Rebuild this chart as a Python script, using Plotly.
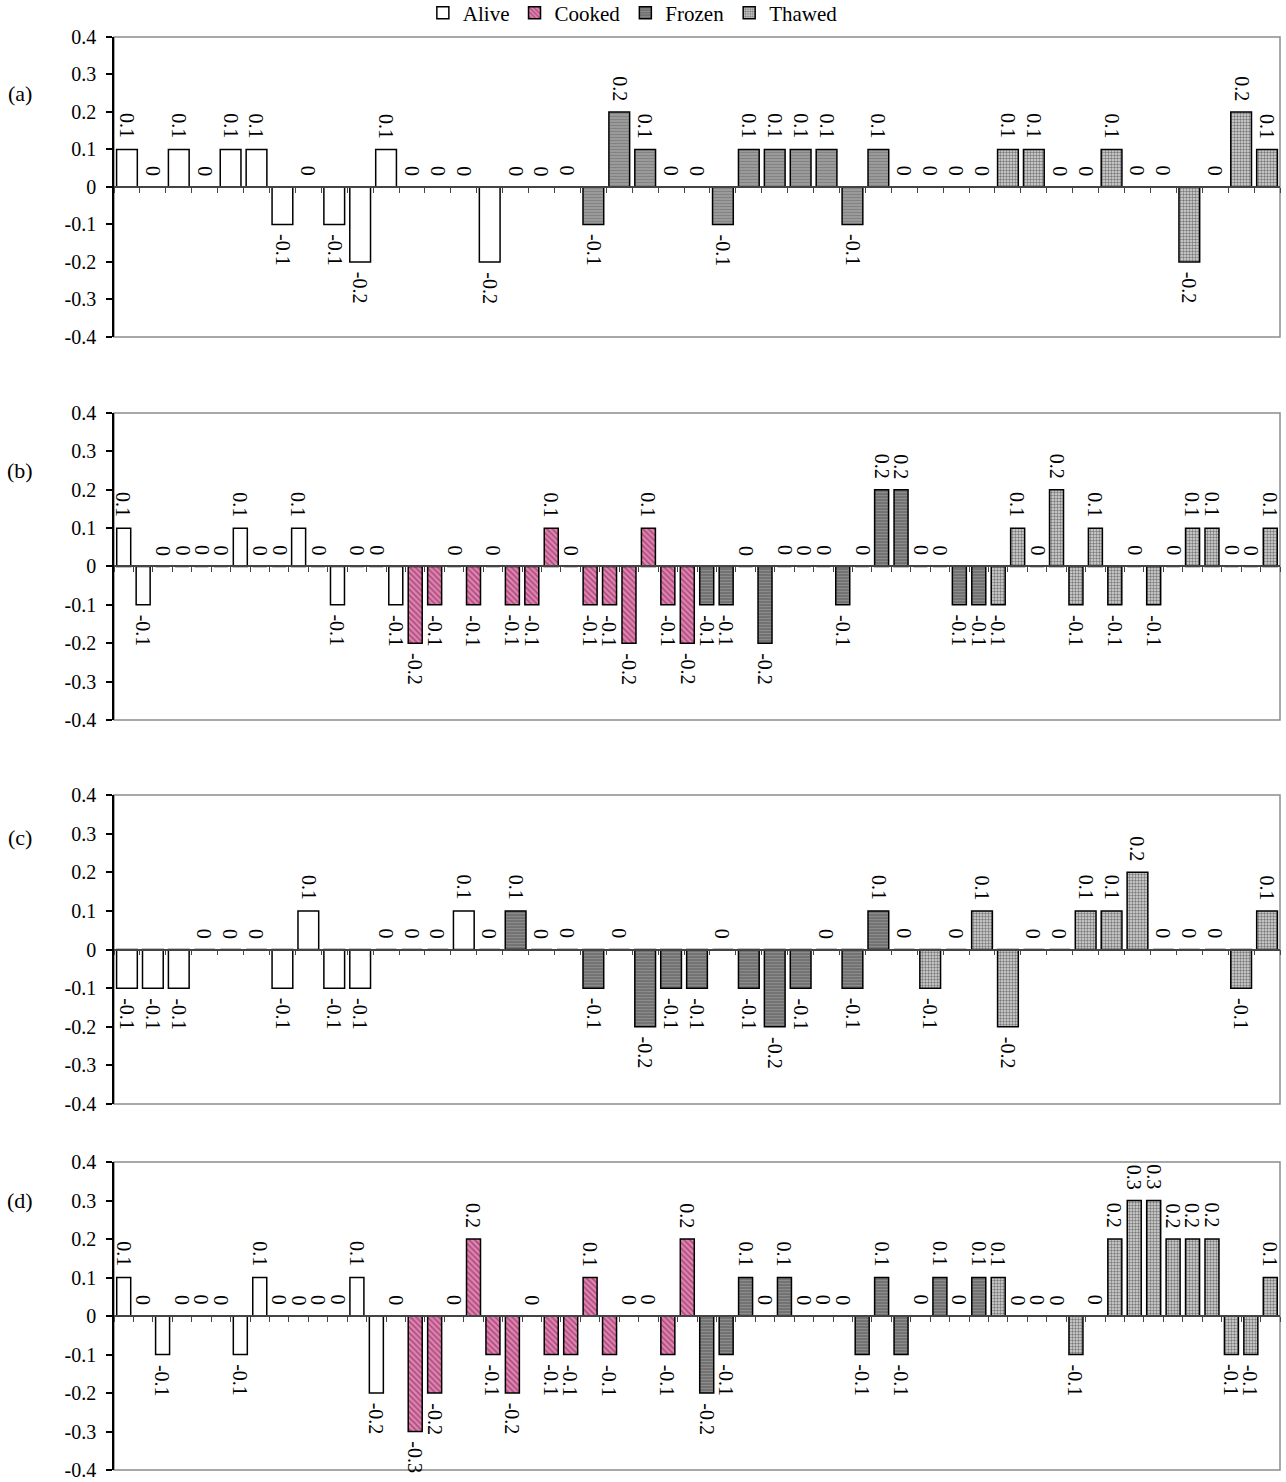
import plotly.graph_objects as go

# ---------------- data ----------------
group_names = ["Alive", "Cooked", "Frozen", "Thawed"]

a_alive = [0.1, 0, 0.1, 0, 0.1, 0.1, -0.1, 0, -0.1, -0.2, 0.1, 0, 0, 0, -0.2]
a_frozen = [0, 0, 0, -0.1, 0.2, 0.1, 0, 0, -0.1, 0.1, 0.1, 0.1, 0.1, -0.1, 0.1]
a_thawed = [0, 0, 0, 0, 0.1, 0.1, 0, 0, 0.1, 0, 0, -0.2, 0, 0.2, 0.1]

b_alive = [0.1, -0.1, 0, 0, 0, 0, 0.1, 0, 0, 0.1, 0, -0.1, 0, 0, -0.1]
b_cooked = [-0.2, -0.1, 0, -0.1, 0, -0.1, -0.1, 0.1, 0, -0.1, -0.1, -0.2, 0.1, -0.1, -0.2]
b_frozen = [-0.1, -0.1, 0, -0.2, 0, 0, 0, -0.1, 0, 0.2, 0.2, 0, 0, -0.1, -0.1]
b_thawed = [-0.1, 0.1, 0, 0.2, -0.1, 0.1, -0.1, 0, -0.1, 0, 0.1, 0.1, 0, 0, 0.1]

c_alive = [-0.1, -0.1, -0.1, 0, 0, 0, -0.1, 0.1, -0.1, -0.1, 0, 0, 0, 0.1, 0]
c_frozen = [0.1, 0, 0, -0.1, 0, -0.2, -0.1, -0.1, 0, -0.1, -0.2, -0.1, 0, -0.1, 0.1]
c_thawed = [0, -0.1, 0, 0.1, -0.2, 0, 0, 0.1, 0.1, 0.2, 0, 0, 0, -0.1, 0.1]

d_alive = [0.1, 0, -0.1, 0, 0, 0, -0.1, 0.1, 0, 0, 0, 0, 0.1, -0.2, 0]
d_cooked = [-0.3, -0.2, 0, 0.2, -0.1, -0.2, 0, -0.1, -0.1, 0.1, -0.1, 0, 0, -0.1, 0.2]
d_frozen = [-0.2, -0.1, 0.1, 0, 0.1, 0, 0, 0, -0.1, 0.1, -0.1, 0, 0.1, 0, 0.1]
d_thawed = [0.1, 0, 0, 0, -0.1, 0, 0.2, 0.3, 0.3, 0.2, 0.2, 0.2, -0.1, -0.1, 0.1]

panel_labels = ["(a)", "(b)", "(c)", "(d)"]

y_tickvals = [0.4, 0.3, 0.2, 0.1, 0, -0.1, -0.2, -0.3, -0.4]
y_ticklabels = ["0.4", "0.3", "0.2", "0.1", "0", "-0.1", "-0.2", "-0.3", "-0.4"]
y_range = [-0.4, 0.4]

panels = [
    {"Alive": a_alive, "Frozen": a_frozen, "Thawed": a_thawed},
    {"Alive": b_alive, "Cooked": b_cooked, "Frozen": b_frozen, "Thawed": b_thawed},
    {"Alive": c_alive, "Frozen": c_frozen, "Thawed": c_thawed},
    {"Alive": d_alive, "Cooked": d_cooked, "Frozen": d_frozen, "Thawed": d_thawed},
]

# ---------------- styling ----------------
FONT = "Liberation Serif, Times New Roman, serif"
styles = {
    "Alive": dict(color="white"),
    "Cooked": dict(color="#E283B3",
                   pattern=dict(shape="\\", fgcolor="#70183F", size=4, solidity=0.42)),
    "Frozen": dict(color="#727272",
                   pattern=dict(shape="-", fgcolor="#A8A8A8", size=3, solidity=0.35)),
    "Thawed": dict(color="#DADADA",
                   pattern=dict(shape=".", fgcolor="#1A1A1A", size=3, solidity=0.5)),
}
# panel (a) draws its frozen bars in a lighter striped grey
frozen_light = dict(color="#9C9C9C",
                    pattern=dict(shape="-", fgcolor="#6A6A6A", size=3, solidity=0.4))
bar_width = [0.8, 0.72, 0.8, 0.72]
domains = [[0.7907, 1.0], [0.5234, 0.7376], [0.2554, 0.4710], [0.0, 0.2149]]
label_y = [0.25, 0.25, 0.29, 0.30]

fig = go.Figure()
annotations = []
shapes = []

for p, groups in enumerate(panels):
    sfx = "" if p == 0 else str(p + 1)
    xref, yref = "x" + sfx, "y" + sfx
    start = 1
    for name in group_names:
        if name not in groups:
            continue
        vals = groups[name]
        xs = list(range(start, start + len(vals)))
        start += len(vals)
        st = frozen_light if (p == 0 and name == "Frozen") else styles[name]
        marker = dict(color=st["color"], line=dict(color="black", width=1.5))
        if "pattern" in st:
            marker["pattern"] = st["pattern"]
        fig.add_trace(go.Bar(
            x=xs, y=vals, name=name, marker=marker, width=bar_width[p],
            xaxis=xref, yaxis=yref, legendgroup=name,
            showlegend=(p == 1), cliponaxis=False, hoverinfo="x+y",
        ))
        for xv, v in zip(xs, vals):
            annotations.append(dict(
                x=xv, y=v, xref=xref, yref=yref, text=f"{v:g}",
                showarrow=False, textangle=90,
                yanchor="top" if v < 0 else "bottom",
                yshift=-8 if v < 0 else 9,
                font=dict(family=FONT, size=20, color="black"),
            ))
    n = start - 1
    d0, d1 = domains[p]
    zero_pos = d0 + (0 - y_range[0]) / (y_range[1] - y_range[0]) * (d1 - d0)
    fig.layout["xaxis" + sfx] = dict(
        domain=[0, 1], range=[0.5, n + 0.5], anchor="free", position=zero_pos,
        showline=True, linecolor="#444444", linewidth=1.5,
        ticks="outside", ticklen=5, tickwidth=1, tickcolor="#444444",
        tickvals=[k + 0.5 for k in range(n + 1)], showticklabels=False,
        showgrid=False, zeroline=False, fixedrange=True,
    )
    fig.layout["yaxis" + sfx] = dict(
        domain=domains[p], range=y_range, anchor=xref,
        tickvals=y_tickvals, ticktext=y_ticklabels,
        showline=True, linecolor="black", linewidth=1.5,
        ticks="outside", ticklen=6, tickwidth=1.5, tickcolor="black",
        ticklabelstandoff=6,
        tickfont=dict(family=FONT, size=20, color="black"),
        showgrid=False, zeroline=False, fixedrange=True,
    )
    shapes.append(dict(type="rect", xref=xref + " domain", yref=yref + " domain",
                       x0=0, x1=1, y0=0, y1=1, layer="below",
                       line=dict(color="#8C8C8C", width=1.5)))
    annotations.append(dict(
        x=-0.0805, y=label_y[p], xref="paper", yref=yref, text=panel_labels[p],
        showarrow=False, xanchor="center", yanchor="middle",
        font=dict(family=FONT, size=22, color="black"),
    ))

fig.update_layout(
    width=1286, height=1482,
    margin=dict(l=114, r=6, t=37, b=12, autoexpand=False),
    paper_bgcolor="white", plot_bgcolor="white",
    barmode="overlay",
    font=dict(family=FONT, color="black"),
    legend=dict(orientation="h", x=0.445, xanchor="center", y=1.031, yanchor="top",
                bgcolor="white", font=dict(family=FONT, size=21, color="black"),
                itemwidth=30, tracegroupgap=0, traceorder="normal"),
    annotations=annotations,
    shapes=shapes,
)

fig.write_html(
    "out.html",
    config={"displayModeBar": False},
    post_script="document.body.style.margin='0px';document.body.style.padding='0px';",
)
